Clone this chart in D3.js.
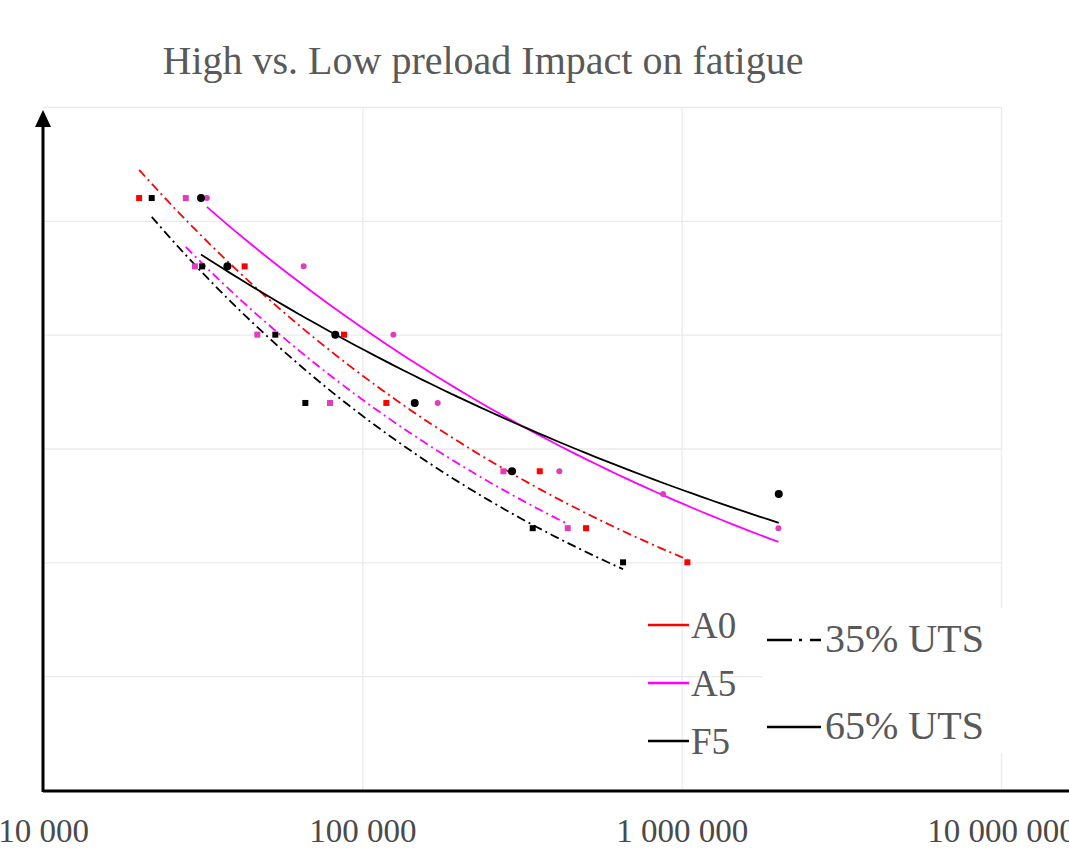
<!DOCTYPE html>
<html>
<head>
<meta charset="utf-8">
<script src="https://cdn.jsdelivr.net/npm/d3@7"></script>
<style>
  body { margin: 0; background: #fff; }
  svg { display: block; font-family: "Liberation Serif", "DejaVu Serif", serif; }
</style>
</head>
<body>
<script>
/**
 * High vs. low preload - S-N chart
 */

// cycles to failure (x) and stress level (y), one pair of arrays per series
// "Low" = 35% UTS preload (squares), "High" = 65% UTS preload (circles)
var a0LowCycles  = [20000, 42800, 87600, 118900, 359400, 501900, 1042000];
var a0LowStress  = [260, 230, 200, 170, 140, 115, 100];

var a5LowCycles  = [28000, 29900, 46900, 79200, 276500, 439800];
var a5LowStress  = [260, 230, 200, 170, 140, 115];

var a5HighCycles = [32600, 65500, 125100, 172200, 414000, 874400, 2009000];
var a5HighStress = [260, 230, 200, 170, 140, 130, 115];

var f5LowCycles  = [21900, 31500, 53400, 66300, 341700, 655300];
var f5LowStress  = [260, 230, 200, 170, 115, 100];

var f5HighCycles = [31250, 37800, 82300, 145900, 294300, 2014000];
var f5HighStress = [260, 230, 200, 170, 140, 130];

// axis ticks
var xTickValues = [10000, 100000, 1000000, 10000000];
var xTickLabels = ['10 000', '100 000', '1 000 000', '10 000 000'];
var yTickValues = [50, 100, 150, 200, 250, 300];

// legends
var materialNames  = ['A0', 'A5', 'F5'];
var preloadNames   = ['35% UTS', '65% UTS'];

var chartTitle = 'High vs. Low preload Impact on fatigue';

// svg size and plot box
var width = 1069, height = 855;
var plotLeft = 43, plotRight = 1001, plotTop = 107, plotBottom = 790;

var svg = d3.select('body').append('svg')
  .attr('width', width)
  .attr('height', height);

var x = d3.scaleLog().domain([1e4, 1e7]).range([plotLeft, plotRight]);
var y = d3.scaleLinear().domain([0, 300]).range([plotBottom, plotTop]);

// colours
var RED = '#ff0000', MAG = '#ff00ff', MAGPT = '#e03cc0', BLK = '#000000';
var DASHDOT = '9,4,2,4';

var series = [
  { cycles: a0LowCycles,  stress: a0LowStress,  line: RED, pt: RED,   dash: DASHDOT, shape: 'sq' },
  { cycles: f5LowCycles,  stress: f5LowStress,  line: BLK, pt: BLK,   dash: DASHDOT, shape: 'sq' },
  { cycles: a5LowCycles,  stress: a5LowStress,  line: MAG, pt: MAGPT, dash: DASHDOT, shape: 'sq' },
  { cycles: a5HighCycles, stress: a5HighStress, line: MAG, pt: MAGPT, dash: null,    shape: 'ci', r: 3 },
  { cycles: f5HighCycles, stress: f5HighStress, line: BLK, pt: BLK,   dash: null,    shape: 'ci', r: 4 }
];

/**
 * GRID
 */
svg.append('g')
  .attr('transform', 'translate(' + plotLeft + ',0)')
  .call(d3.axisLeft(y).tickValues(yTickValues).tickSize(-(plotRight - plotLeft)).tickFormat(''))
  .call(function(g) {
    g.select('.domain').remove();
    g.selectAll('line').attr('stroke', '#ebebeb').attr('stroke-width', 1.3);
  });

svg.append('g')
  .attr('transform', 'translate(0,' + plotTop + ')')
  .call(d3.axisBottom(x).tickValues(xTickValues.slice(1)).tickSize(plotBottom - plotTop).tickFormat(''))
  .call(function(g) {
    g.select('.domain').remove();
    g.selectAll('line').attr('stroke', '#ebebeb').attr('stroke-width', 1.3);
  });

/**
 * TRENDLINES (power fit, like the spreadsheet one)
 */
function powerFit(xs, ys) {
  var lx = xs.map(Math.log), ly = ys.map(Math.log);
  var mx = d3.mean(lx), my = d3.mean(ly);
  var sxy = d3.sum(lx, function(v, i) { return (v - mx) * (ly[i] - my); });
  var sxx = d3.sum(lx, function(v) { return (v - mx) * (v - mx); });
  var b = sxy / sxx, a = my - b * mx;
  return function(n) { return Math.exp(a + b * Math.log(n)); };
}

var line = d3.line()
  .x(function(d) { return x(d[0]); })
  .y(function(d) { return y(d[1]); });

series.forEach(function(s) {
  var f = powerFit(s.cycles, s.stress);
  var ext = d3.extent(s.cycles);
  var pts = d3.range(0, 61).map(function(i) {
    var n = Math.exp(Math.log(ext[0]) + (Math.log(ext[1]) - Math.log(ext[0])) * i / 60);
    return [n, f(n)];
  });
  svg.append('path')
    .attr('d', line(pts))
    .attr('fill', 'none')
    .attr('stroke', s.line)
    .attr('stroke-width', 1.8)
    .attr('stroke-dasharray', s.dash);
});

/**
 * POINTS
 */
series.forEach(function(s) {
  var g = svg.append('g');
  var data = s.cycles.map(function(c, i) { return [c, s.stress[i]]; });
  if (s.shape === 'sq') {
    g.selectAll('rect').data(data).enter().append('rect')
      .attr('x', function(d) { return x(d[0]) - 3; })
      .attr('y', function(d) { return y(d[1]) - 3; })
      .attr('width', 6).attr('height', 6)
      .attr('fill', s.pt);
  } else {
    g.selectAll('circle').data(data).enter().append('circle')
      .attr('cx', function(d) { return x(d[0]); })
      .attr('cy', function(d) { return y(d[1]); })
      .attr('r', s.r)
      .attr('fill', s.pt);
  }
});

/**
 * AXES
 */
svg.append('line')
  .attr('x1', plotLeft).attr('x2', width)
  .attr('y1', plotBottom + 1).attr('y2', plotBottom + 1)
  .attr('stroke', '#000').attr('stroke-width', 3);
svg.append('line')
  .attr('x1', plotLeft).attr('x2', plotLeft)
  .attr('y1', plotBottom + 2).attr('y2', plotTop + 18)
  .attr('stroke', '#000').attr('stroke-width', 3);
svg.append('path')
  .attr('d', 'M' + plotLeft + ',' + (plotTop + 3) + 'L' + (plotLeft - 8) + ',' + (plotTop + 20) +
             'L' + (plotLeft + 8) + ',' + (plotTop + 20) + 'Z')
  .attr('fill', '#000');

svg.append('g')
  .attr('transform', 'translate(0,' + plotBottom + ')')
  .call(d3.axisBottom(x).tickValues(xTickValues).tickSize(0).tickPadding(0)
    .tickFormat(function(d, i) { return xTickLabels[i]; }))
  .call(function(g) {
    g.select('.domain').remove();
    g.selectAll('text')
      .attr('dy', null)
      .attr('y', 52)
      .attr('fill', '#4a4a4a')
      .style('font-family', '"Liberation Serif", serif')
      .style('font-size', '33px');
  });

/**
 * TITLE
 */
svg.append('text')
  .attr('x', 483).attr('y', 74)
  .attr('text-anchor', 'middle')
  .attr('fill', '#595959')
  .style('font-size', '40px')
  .text(chartTitle);

/**
 * LEGENDS
 */
var matColors = [RED, MAG, BLK];
var mat = svg.append('g');
materialNames.forEach(function(name, i) {
  var cy = 625 + i * 58;
  mat.append('line')
    .attr('x1', 648).attr('x2', 689).attr('y1', cy).attr('y2', cy)
    .attr('stroke', matColors[i]).attr('stroke-width', 2.5);
  mat.append('text')
    .attr('x', 691).attr('y', cy + 13)
    .attr('fill', '#595959')
    .style('font-size', '37px')
    .text(name);
});

var pre = svg.append('g');
pre.append('rect')
  .attr('x', 762).attr('y', 608).attr('width', 246).attr('height', 145)
  .attr('fill', '#fff');
preloadNames.forEach(function(name, i) {
  var cy = 640 + i * 87;
  pre.append('line')
    .attr('x1', 767).attr('x2', 821).attr('y1', cy).attr('y2', cy)
    .attr('stroke', '#000').attr('stroke-width', 2.5)
    .attr('stroke-dasharray', i === 0 ? '25,7,3,8,14' : null);
  pre.append('text')
    .attr('x', 825).attr('y', cy + 12)
    .attr('fill', '#595959')
    .style('font-size', '40px')
    .text(name);
});
</script>
</body>
</html>
